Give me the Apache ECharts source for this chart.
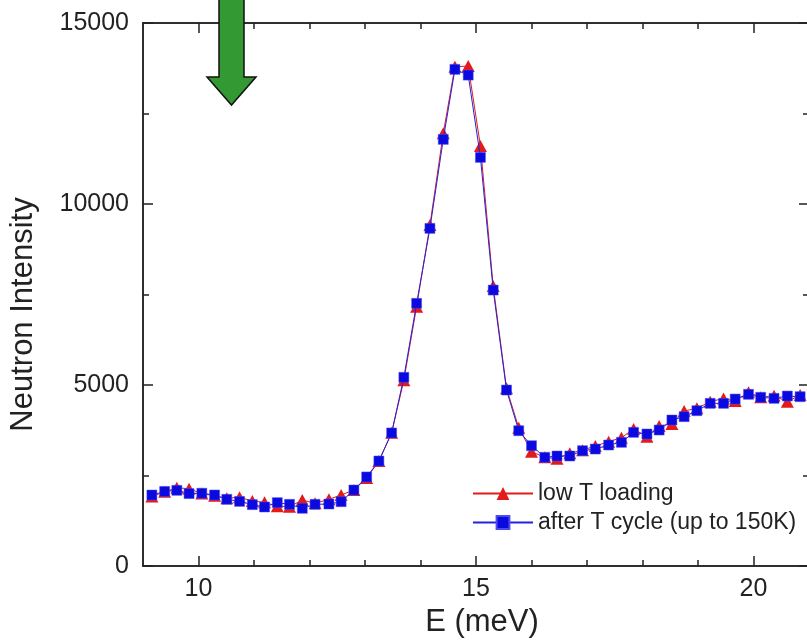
<!DOCTYPE html>
<html>
<head>
<meta charset="utf-8">
<script src="https://cdn.jsdelivr.net/npm/echarts@6/dist/echarts.min.js"></script>
<style>
html,body{margin:0;padding:0;background:#fff;}
#chart{width:807px;height:640px;}
</style>
</head>
<body>
<div id="chart"></div>
<script>
// Energy transfer (meV)
const energy = [9.16,9.39,9.61,9.83,10.06,10.29,10.51,10.74,10.97,11.19,11.42,11.64,11.87,12.10,12.35,12.57,12.80,13.03,13.25,13.48,13.70,13.93,14.17,14.41,14.62,14.86,15.08,15.31,15.55,15.77,16.00,16.24,16.46,16.69,16.92,17.15,17.39,17.62,17.84,18.08,18.30,18.53,18.75,18.98,19.22,19.46,19.67,19.91,20.13,20.37,20.61,20.84];
// low T loading (red triangles)
const lowT = [1920,2050,2160,2135,2000,1940,1870,1900,1795,1760,1650,1640,1820,1732,1842,1961,2100,2430,2900,3680,5130,7162,9418,11951,13791,13810,11600,7734,4908,3820,3157,3002,2965,3113,3200,3314,3434,3544,3784,3572,3867,3922,4281,4355,4538,4630,4557,4800,4660,4704,4538,4723];
// after T cycle (blue squares)
const afterCycle = [1961,2060,2090,2000,2010,1961,1842,1785,1695,1630,1750,1704,1594,1704,1712,1776,2099,2460,2900,3675,5212,7256,9327,11785,13719,13561,11288,7623,4861,3737,3323,3002,3038,3038,3185,3231,3342,3416,3692,3646,3756,4033,4125,4290,4493,4493,4612,4742,4660,4631,4695,4677];

const seriesNames = ['low T loading', 'after T cycle (up to 150K)'];
const xMajorTicks = [10, 15, 20];
const xMinorTicks = [11, 12, 13, 14, 16, 17, 18, 19];
const yMajorTicks = [0, 5000, 10000, 15000];
const yMinorTicks = [2500, 7500, 12500];

const FONT = '"Liberation Sans", Arial, sans-serif';
const AX = '#222';

function pairs(xs, ys) { return xs.map((x, i) => [x, ys[i]]); }

function xAx(pos, ticks, len, labels, extra) {
  return Object.assign({
    type: 'value', position: pos, min: 9, max: 21,
    axisLine: { show: true, onZero: false, lineStyle: { color: AX, width: 1.5 } },
    axisTick: { show: true, inside: true, length: len, customValues: ticks, lineStyle: { color: AX, width: 1.5 } },
    axisLabel: labels ? { show: true, customValues: ticks, fontSize: 25, fontFamily: FONT, color: '#222', margin: 11 } : { show: false },
    splitLine: { show: false }
  }, extra || {});
}
function yAx(pos, ticks, len, labels, extra) {
  return Object.assign({
    type: 'value', position: pos, min: 0, max: 15000,
    axisLine: { show: true, onZero: false, lineStyle: { color: AX, width: 1.5 } },
    axisTick: { show: true, inside: true, length: len, customValues: ticks, lineStyle: { color: AX, width: 1.5 } },
    axisLabel: labels ? { show: true, customValues: ticks, fontSize: 25, fontFamily: FONT, color: '#222', margin: 14, formatter: v => String(v) } : { show: false },
    splitLine: { show: false }
  }, extra || {});
}

const chart = echarts.init(document.getElementById('chart'), null, { renderer: 'canvas' });
chart.setOption({
  backgroundColor: '#fff',
  animation: false,
  grid: { left: 143, top: 23, width: 666, height: 543, containLabel: false, outerBoundsMode: 'none' },
  xAxis: [
    xAx('bottom', xMajorTicks, 10, true, {
      name: 'E (meV)', nameLocation: 'middle', nameGap: 39,
      nameTextStyle: { fontSize: 31, fontFamily: FONT, color: '#222', padding: [0, 0, 0, 12] }
    }),
    xAx('bottom', xMinorTicks, 6, false),
    xAx('top', xMajorTicks, 10, false),
    xAx('top', xMinorTicks, 6, false)
  ],
  yAxis: [
    yAx('left', yMajorTicks, 10, true, {
      name: 'Neutron Intensity', nameLocation: 'middle', nameGap: 104,
      nameTextStyle: { fontSize: 31, fontFamily: FONT, color: '#222', padding: [0, 40, 0, 0] }
    }),
    yAx('left', yMinorTicks, 6, false),
    yAx('right', yMajorTicks, 10, false, { axisLine: { show: false } }),
    yAx('right', yMinorTicks, 6, false, { axisLine: { show: false } })
  ],
  legend: {
    orient: 'vertical', left: 472, top: 482, padding: 0,
    itemWidth: 60, itemHeight: 16, itemGap: 6,
    textStyle: { fontSize: 23, fontFamily: FONT, color: '#222' },
    data: seriesNames
  },
  series: [
    {
      name: seriesNames[0], type: 'line', data: pairs(energy, lowT),
      xAxisIndex: 0, yAxisIndex: 0,
      symbol: 'triangle', symbolSize: [13, 12],
      lineStyle: { color: '#e31a1a', width: 1 },
      itemStyle: { color: '#e31a1a' }, z: 2
    },
    {
      name: seriesNames[1], type: 'line', data: pairs(energy, afterCycle),
      xAxisIndex: 0, yAxisIndex: 0,
      symbol: 'rect', symbolSize: 10,
      lineStyle: { color: '#2222dd', width: 1 },
      itemStyle: { color: '#0a0ae0', borderColor: '#4a4af0', borderWidth: 0.5 }, z: 3
    }
  ],
  graphic: [{
    type: 'polygon', z: 100,
    shape: { points: [[219, -5], [244, -5], [244, 77], [256, 77], [231.5, 105], [207, 77], [219, 77]] },
    style: { fill: '#339933', stroke: '#111', lineWidth: 1.5 }
  }]
});
</script>
</body>
</html>
